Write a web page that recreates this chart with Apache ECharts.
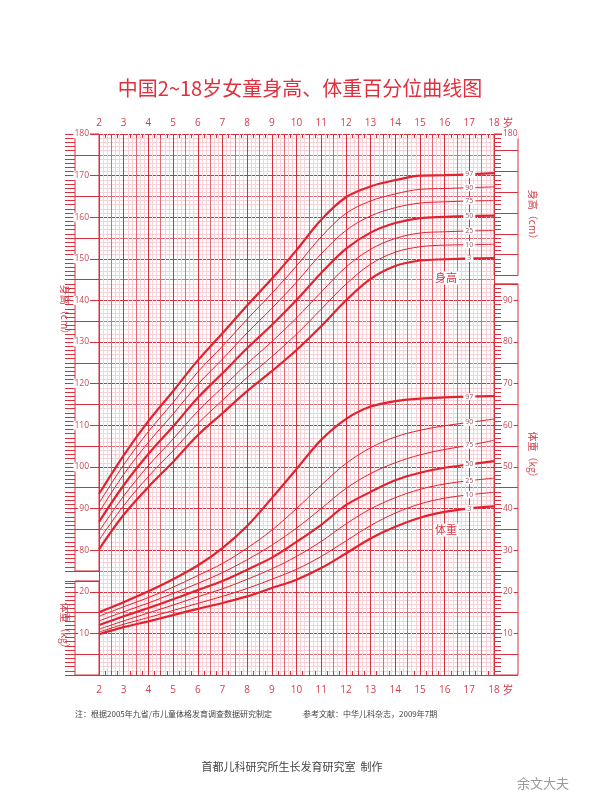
<!DOCTYPE html>
<html><head><meta charset="utf-8">
<script src="https://cdn.jsdelivr.net/npm/echarts@6/dist/echarts.min.js"></script>
<style>html,body{margin:0;padding:0;background:#fff}#c{width:600px;height:808px}</style>
</head><body><div id="c"></div>
<script>
// ---------- data ----------
const ages = [2,3,4,5,6,7,8,9,10,11,12,13,14,15,16,17,18];
const percentiles = ['3','10','25','50','75','90','97'];

const height3  = [80.2, 88.5, 95.2,101.2,107.6,112.9,118.2,123.0,128.1,133.8,140.0,145.2,148.3,149.6,149.9,150.1,150.2];
const height10 = [82.4, 90.7, 97.7,103.9,110.4,116.0,121.5,126.5,131.9,137.9,143.9,148.7,151.6,152.9,153.3,153.4,153.5];
const height25 = [84.5, 93.0,100.3,106.7,113.4,119.1,124.8,130.1,135.8,142.0,148.0,152.3,154.9,156.2,156.5,156.7,156.8];
const height50 = [86.8, 95.6,103.1,109.7,116.6,122.5,128.5,134.1,140.1,146.6,152.4,156.3,158.6,159.8,160.1,160.3,160.4];
const height75 = [89.1, 98.2,105.9,112.7,119.8,125.9,132.2,138.1,144.4,151.2,156.8,160.3,162.3,163.4,163.7,163.9,164.0];
const height90 = [91.3,100.5,108.5,115.5,122.8,129.0,135.5,141.7,148.3,155.3,160.9,163.9,165.6,166.7,166.9,167.1,167.3];
const height97 = [93.5,102.8,111.0,118.2,125.6,132.1,138.8,145.2,152.1,159.4,164.8,167.4,168.9,170.0,170.1,170.3,170.6];

const weight3  = [ 9.8,11.5,12.9,14.4,15.9,17.3,18.9,20.9,22.9,25.7,29.2,32.8,35.6,37.8,39.2,40.0,40.5];
const weight10 = [10.3,12.2,13.8,15.5,17.2,18.9,20.8,23.0,25.4,28.5,32.2,35.9,38.9,41.1,42.5,43.3,43.9];
const weight25 = [11.0,13.0,14.9,16.8,18.8,20.7,23.0,25.5,28.5,32.1,36.3,39.9,42.6,44.6,45.9,46.7,47.3];
const weight50 = [12.0,14.1,16.1,18.2,20.4,22.6,25.3,28.2,32.0,36.1,40.8,44.0,46.8,48.6,49.8,50.6,51.4];
const weight75 = [13.0,15.2,17.3,19.6,22.0,24.6,27.7,31.2,35.3,40.0,44.8,48.4,51.0,52.9,54.2,55.2,56.4];
const weight90 = [14.1,16.4,18.6,21.1,23.9,26.8,30.5,34.8,40.0,45.6,50.8,54.6,57.2,58.8,59.9,60.7,61.5];
const weight97 = [15.1,17.5,20.1,23.0,26.3,30.5,35.8,42.5,49.5,56.5,61.5,64.5,65.8,66.4,66.7,66.9,67.0];

const heightSets = [height3,height10,height25,height50,height75,height90,height97];
const weightSets = [weight3,weight10,weight25,weight50,weight75,weight90,weight97];
const labelAge = 17;

// ---------- style ----------
const DARK = '#d6303f', MED = '#e36b78', LIGHT = '#f8d2d7';
const CURVE = '#e1222f';
const NUM_FONT = '"Open Sans","Noto Sans",sans-serif';
const CJK = '"Noto Sans CJK SC",sans-serif';
const W = 600, H = 808;
const main = {left: 99, right: 106, top: 134, bottom: 133};
const plotH = H - main.top - main.bottom;
const hMin = 50, hMax = 180;
const px = plotH / (hMax - hMin);
const yOfH = h => main.top + (hMax - h) * px;
const yOfW = w => H - main.bottom - w * px;

const panels = [
  {side: 'right', left: 75, min: 75, max: 180, top: yOfH(180), bottom: yOfH(75), tick: 10, margin: 9},
  {side: 'right', left: 75, min: 0, max: 22.6, top: yOfW(22.6), bottom: yOfW(0), tick: 10, margin: 9},
  {side: 'left', left: 494, min: 146, max: 180, top: yOfH(180), bottom: yOfH(146), tick: 7, margin: 8},
  {side: 'left', left: 494, min: 0, max: 94, top: yOfW(94), bottom: yOfW(0), tick: 7, margin: 8}
];

const grids = [{left: main.left, right: main.right, top: main.top, bottom: main.bottom}];
panels.forEach(p => grids.push({
  left: p.left, width: 24, top: p.top, height: p.bottom - p.top,
  show: true, borderColor: DARK, borderWidth: 1, backgroundColor: 'transparent'
}));

// grid lines: one axis per direction, colours cycling over the ticks
const xLineColors = [DARK, LIGHT, LIGHT, MED, LIGHT, LIGHT];                       // every 2 months
const yLineColors = [DARK, LIGHT, LIGHT, LIGHT, LIGHT, MED, LIGHT, LIGHT, LIGHT, LIGHT]; // every 1 unit

const xAxes = [
  {gridIndex: 0, type: 'value', min: 24, max: 216, interval: 2,
   axisLine: {show: false}, axisTick: {show: false}, axisLabel: {show: false},
   splitLine: {show: true, lineStyle: {color: xLineColors, width: 1}}},
  {gridIndex: 0, type: 'value', min: 2, max: 18, interval: 1, position: 'bottom',
   axisLine: {show: false},
   axisTick: {show: true, inside: true, length: 5, lineStyle: {color: DARK}},
   minorTick: {show: true, splitNumber: 4, length: 4, lineStyle: {color: DARK}},
   axisLabel: {show: true, margin: 10, color: '#d4404d', fontSize: 10, fontFamily: NUM_FONT},
   splitLine: {show: false}},
  {gridIndex: 0, type: 'value', min: 2, max: 18, interval: 1, position: 'top',
   axisLine: {show: false},
   axisTick: {show: true, inside: true, length: 5, lineStyle: {color: DARK}},
   minorTick: {show: true, splitNumber: 4, length: 4, lineStyle: {color: DARK}},
   axisLabel: {show: true, margin: 6, color: '#d4404d', fontSize: 10, fontFamily: NUM_FONT},
   splitLine: {show: false}}
];
panels.forEach((p, i) => xAxes.push({gridIndex: i + 1, type: 'value', show: false, min: 0, max: 1}));

const yAxes = [
  {gridIndex: 0, type: 'value', min: hMin, max: hMax, interval: 1,
   axisLine: {show: false}, axisTick: {show: false}, axisLabel: {show: false},
   splitLine: {show: true, lineStyle: {color: yLineColors, width: 1}}},
  {gridIndex: 0, type: 'value', min: 0, max: hMax - hMin, show: false}
];
panels.forEach((p, i) => {
  yAxes.push({gridIndex: i + 1, type: 'value', min: p.min, max: p.max, interval: 1, position: p.side,
    axisLine: {show: false}, axisLabel: {show: false}, splitLine: {show: false},
    axisTick: {show: true, inside: true, length: p.tick, lineStyle: {color: DARK}}});
  yAxes.push({gridIndex: i + 1, type: 'value', min: p.min, max: p.max, interval: 5, position: p.side,
    axisLine: {show: false}, axisTick: {show: false, inside: true},
    splitLine: {show: true, lineStyle: {color: DARK}},
    axisLabel: {show: true, inside: true, margin: p.margin,
      formatter: v => (v % 10 === 0 && v > 0) ? '{b|' + v + '}' : '',
      rich: {b: {backgroundColor: '#fff', padding: [0, 1], color: '#c64a57', fontSize: 8.5, fontFamily: NUM_FONT}}}});
});

function makeSeries(sets, yIdx) {
  return sets.map((vals, k) => {
    const thick = (k === 0 || k === 3 || k === 6);
    return {
      type: 'line', xAxisIndex: 1, yAxisIndex: yIdx, smooth: 0.35,
      showSymbol: true, symbol: 'circle', symbolSize: 0, z: 5,
      lineStyle: {color: CURVE, width: thick ? 2.2 : 1},
      itemStyle: {color: CURVE},
      emphasis: {disabled: true}, silent: true,
      data: ages.map((a, i) => {
        const item = {value: [a, vals[i]]};
        if (a === labelAge) item.label = {show: true, position: 'inside', formatter: percentiles[k],
          color: '#9a5560', fontSize: 7, fontFamily: NUM_FONT, backgroundColor: '#fff', padding: [0, 2]};
        return item;
      })
    };
  });
}
const series = makeSeries(heightSets, 0).concat(makeSeries(weightSets, 1));

function txt(x, y, text, o) {
  return Object.assign({type: 'text', x: x, y: y, z: 100,
    style: Object.assign({text: text, fill: '#d9303e', fontSize: 11, fontFamily: CJK, align: 'center', verticalAlign: 'middle'}, o || {})});
}
function vtxt(x, y, text) {
  const t = txt(x, y, text, {fontSize: 10, fill: '#d0404c'});
  t.rotation = -Math.PI / 2;
  return t;
}

const graphic = [
  txt(300, 88, '中国2~18岁女童身高、体重百分位曲线图', {fontSize: 20, fill: '#e0303e'}),
  txt(508, 123, '岁', {fontSize: 11, fill: '#d4404d'}),
  txt(508, 690, '岁', {fontSize: 11, fill: '#d4404d'}),
  txt(446, 278, '身高', {fontSize: 11, backgroundColor: '#fff', padding: [1, 2]}),
  txt(446, 530, '体重', {fontSize: 11, backgroundColor: '#fff', padding: [1, 2]}),
  vtxt(65, 312, '身高（cm）'),
  vtxt(65, 628, '体重（kg）'),
  vtxt(533, 217, '身高（cm）'),
  vtxt(533, 457, '体重（kg）'),
  txt(75, 714, '注：根据2005年九省/市儿童体格发育调查数据研究制定', {fontSize: 8, fill: '#444', align: 'left'}),
  txt(303, 714, '参考文献：中华儿科杂志，2009年7期', {fontSize: 8, fill: '#444', align: 'left'}),
  txt(292, 767, '首都儿科研究所生长发育研究室  制作', {fontSize: 11, fill: '#444'}),
  txt(543, 783, '余文大夫', {fontSize: 13, fill: '#9a9a9a'})
];

const chart = echarts.init(document.getElementById('c'), null, {renderer: 'canvas'});
chart.setOption({
  animation: false,
  backgroundColor: '#fff',
  grid: grids,
  xAxis: xAxes,
  yAxis: yAxes,
  series: series,
  graphic: graphic
});
</script></body></html>
